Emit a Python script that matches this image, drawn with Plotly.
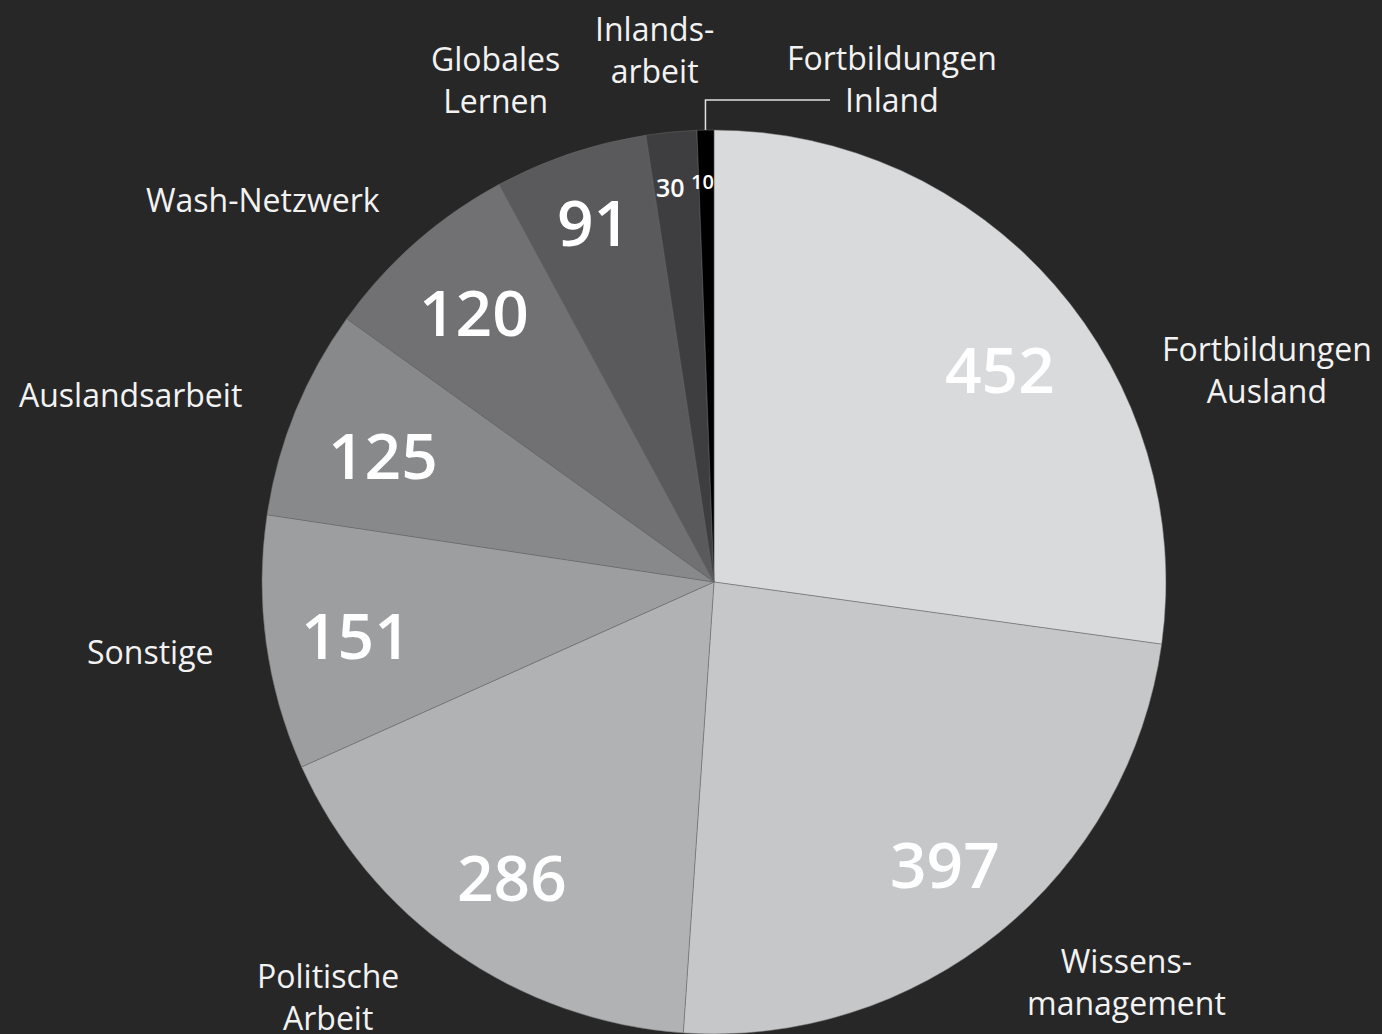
import math
import plotly.graph_objects as go

# ---- data ----
categories = ["Fortbildungen Ausland", "Wissensmanagement", "Politische Arbeit", "Sonstige",
              "Auslandsarbeit", "Wash-Netzwerk", "Globales Lernen", "Inlandsarbeit", "Fortbildungen Inland"]
values = [452, 397, 286, 151, 125, 120, 91, 30, 10]
display_labels = ["Fortbildungen<br>Ausland", "Wissens-<br>management", "Politische<br>Arbeit", "Sonstige",
                  "Auslandsarbeit", "Wash-Netzwerk", "Globales<br>Lernen", "Inlands-<br>arbeit",
                  "Fortbildungen<br>Inland"]

# ---- styles / layout ----
colors = ["#d9dadc", "#c6c7c9", "#b1b2b4", "#9d9ea0", "#88898b", "#717173", "#5a5a5c", "#3e3e40", "#000000"]
value_font_sizes = [64, 64, 64, 64, 64, 64, 64, 25, 20]
value_radius = [0.79, 0.806, 0.79, 0.80, 0.786, 0.80, 0.84, 0.88, 0.887]
value_angle_offset = [4.4, -0.3, -0.5, -0.5, -1.0, -0.2, 0.0, -0.9, -0.5]  # degrees
# outer label centres in pixels
label_pos = [(1267, 369), (1126, 981), (328, 996), (150, 651), (130, 395), (263, 199), (495, 80), (654, 49), (892, 79)]

W, H = 1382, 1034
TOP = 130
R = (H - TOP) / 2
CX, CY = 714, TOP + R
BG = "#272727"


def px(x):
    return x / W


def py(y):
    return 1 - y / H


fig = go.Figure(go.Pie(
    labels=categories,
    values=values,
    sort=False,
    direction="clockwise",
    rotation=0,
    marker=dict(colors=colors, line=dict(color="#6a6a6a", width=0.5)),
    textinfo="none",
    hoverinfo="label+value",
    showlegend=False,
    domain=dict(x=[(CX - R) / W, (CX + R) / W], y=[0, 1 - TOP / H]),
))

total = sum(values)
annotations = []
cum = 0
mid_angles = []
for v in values:
    a = (cum + v / 2) / total * 2 * math.pi
    mid_angles.append(a)
    cum += v

for v, a, fs, rf, off in zip(values, mid_angles, value_font_sizes, value_radius, value_angle_offset):
    aa = a + math.radians(off)
    x = CX + R * rf * math.sin(aa)
    y = CY - R * rf * math.cos(aa)
    annotations.append(dict(x=px(x), y=py(y), xref="paper", yref="paper", text=str(v), showarrow=False,
                            xanchor="center", yanchor="middle",
                            font=dict(family="Open Sans", size=fs, color="#ffffff", weight=600)))

for lab, (x, y) in zip(display_labels, label_pos):
    annotations.append(dict(x=px(x), y=py(y), xref="paper", yref="paper", text=lab, showarrow=False,
                            xanchor="center", yanchor="middle",
                            font=dict(family="Open Sans", size=32, color="#f2f2f2")))

# connector for the smallest slice
a = mid_angles[-1]
sx = CX + R * math.sin(a)
sy = CY - R * math.cos(a)
shapes = [dict(type="path", xref="paper", yref="paper",
               path=f"M {px(sx)} {py(sy)} L {px(sx)} {py(100)} L {px(830)} {py(100)}",
               line=dict(color="#e0e0e0", width=1.5))]

fig.update_layout(
    width=W, height=H,
    margin=dict(l=0, r=0, t=0, b=0),
    paper_bgcolor=BG, plot_bgcolor=BG,
    annotations=annotations, shapes=shapes,
)

fig.write_html("out.html", config={"displayModeBar": False},
               post_script="document.body.style.margin='0';document.body.style.background='#272727';document.body.style.overflow='hidden';")
